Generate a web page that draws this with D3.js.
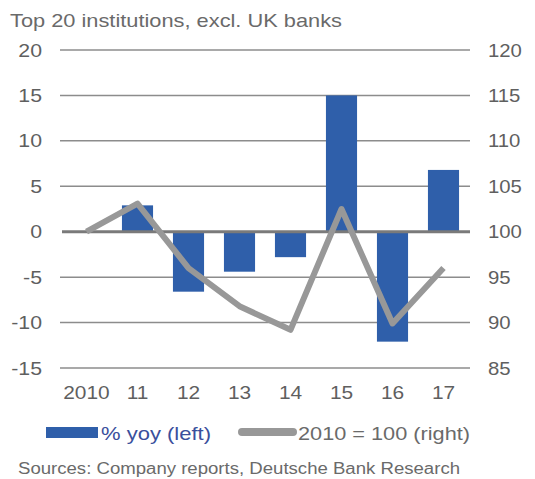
<!DOCTYPE html>
<html>
<head>
<meta charset="utf-8">
<script src="https://cdn.jsdelivr.net/npm/d3@7"></script>
<style>
  body { margin: 0; background: #fff; }
  svg { font-family: "Liberation Sans", Arial, sans-serif; }
  .tick text { fill: #5f5f5f; font-size: 19px; }
</style>
</head>
<body>
<svg width="535" height="479"></svg>
<script>
// data
var years = ['2010', '11', '12', '13', '14', '15', '16', '17'];
var yoy = [0, 2.9, -6.6, -4.4, -2.8, 15, -12.1, 6.8];
var index = [100, 103.1, 96.0, 91.8, 89.2, 102.5, 89.9, 96.0];
var leftTicks = [20, 15, 10, 5, 0, -5, -10, -15];
var rightTicks = [120, 115, 110, 105, 100, 95, 90, 85];

var svg = d3.select('svg');

var x = d3.scaleBand().domain(years).range([61, 469]).paddingInner(0.39).paddingOuter(0.195);
var yLeft = d3.scaleLinear().domain([-15, 20]).range([368, 50]);
var yRight = d3.scaleLinear().domain([85, 120]).range([368, 50]);

// the original's type is a bit wider than Liberation Sans
function widen(sel, k) {
    sel.each(function() {
        this.setAttribute('textLength', this.getComputedTextLength() * k);
        this.setAttribute('lengthAdjust', 'spacingAndGlyphs');
    });
}

// subtitle
svg.append('text')
    .attr('x', 10).attr('y', 27)
    .attr('fill', '#6a6a6a')
    .attr('textLength', 332).attr('lengthAdjust', 'spacingAndGlyphs')
    .style('font-size', '19px')
    .text('Top 20 institutions, excl. UK banks');

// gridlines
svg.append('g').selectAll('line')
    .data(leftTicks.filter(function(d) { return d != 0; }))
    .enter().append('line')
    .attr('x1', 60).attr('x2', 470)
    .attr('y1', function(d) { return yLeft(d); })
    .attr('y2', function(d) { return yLeft(d); })
    .attr('stroke', '#8c8c8c')
    .attr('stroke-width', 1.5);

// left axis
svg.append('g')
    .attr('transform', 'translate(48,0)')
    .call(d3.axisLeft(yLeft).tickValues(leftTicks).tickSize(0).tickPadding(6)
        .tickFormat(function(d) { return String(d); }))
    .call(function(g) { g.select('.domain').remove(); })
    .call(function(g) { widen(g.selectAll('text'), 1.12); });

// right axis
svg.append('g')
    .attr('transform', 'translate(482,0)')
    .call(d3.axisRight(yRight).tickValues(rightTicks).tickSize(0).tickPadding(6))
    .call(function(g) { g.select('.domain').remove(); })
    .call(function(g) { widen(g.selectAll('text'), 1.07); });

// bars
svg.append('g').selectAll('rect')
    .data(yoy)
    .enter().append('rect')
    .attr('x', function(d, i) { return x(years[i]); })
    .attr('width', x.bandwidth())
    .attr('y', function(d) { return yLeft(Math.max(0, d)); })
    .attr('height', function(d) { return Math.abs(yLeft(d) - yLeft(0)); })
    .attr('fill', '#2f5faa');

// zero line
svg.append('line')
    .attr('x1', 62).attr('x2', 470)
    .attr('y1', yLeft(0)).attr('y2', yLeft(0))
    .attr('stroke', '#7a7a7a')
    .attr('stroke-width', 3);

// index line
var line = d3.line()
    .x(function(d, i) { return x(years[i]) + x.bandwidth() / 2; })
    .y(function(d) { return yRight(d); });

svg.append('path')
    .datum(index)
    .attr('d', line)
    .attr('fill', 'none')
    .attr('stroke', '#989898')
    .attr('stroke-width', 6)
    .attr('stroke-linejoin', 'round');

// x axis labels
svg.append('g')
    .attr('transform', 'translate(0,382)')
    .call(d3.axisBottom(x).tickSize(0).tickPadding(4))
    .call(function(g) { g.select('.domain').remove(); })
    .call(function(g) { widen(g.selectAll('text'), 1.1); });

// legend
var legend = svg.append('g');
legend.append('rect')
    .attr('x', 46).attr('y', 427).attr('width', 52).attr('height', 11)
    .attr('fill', '#2f5faa');
legend.append('text')
    .attr('x', 101).attr('y', 440)
    .attr('fill', '#3a4f9c')
    .attr('textLength', 110).attr('lengthAdjust', 'spacingAndGlyphs')
    .style('font-size', '19px')
    .text('% yoy (left)');
legend.append('line')
    .attr('x1', 242).attr('x2', 293).attr('y1', 432).attr('y2', 432)
    .attr('stroke', '#989898')
    .attr('stroke-width', 8)
    .attr('stroke-linecap', 'round');
legend.append('text')
    .attr('x', 298).attr('y', 440)
    .attr('fill', '#6a6a6a')
    .attr('textLength', 172).attr('lengthAdjust', 'spacingAndGlyphs')
    .style('font-size', '19px')
    .text('2010 = 100 (right)');

// source
svg.append('text')
    .attr('x', 18).attr('y', 474)
    .attr('fill', '#6a6a6a')
    .attr('textLength', 442).attr('lengthAdjust', 'spacingAndGlyphs')
    .style('font-size', '16px')
    .text('Sources: Company reports, Deutsche Bank Research');
</script>
</body>
</html>
